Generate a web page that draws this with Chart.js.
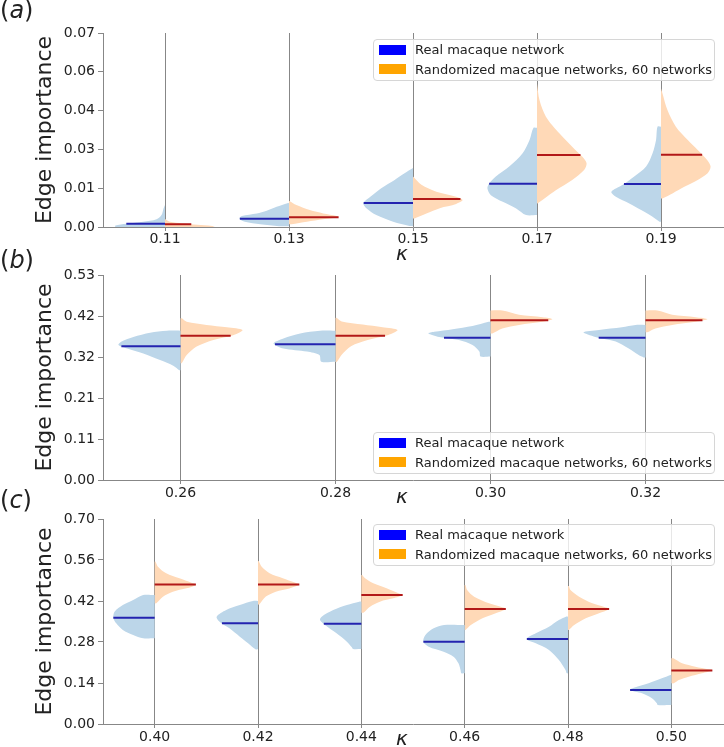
<!DOCTYPE html>
<html>
<head>
<meta charset="utf-8">
<title>Edge importance</title>
<script src="https://cdn.jsdelivr.net/npm/chart.js@4.4.1/dist/chart.umd.min.js"></script>
<style>
  body { margin: 0; background: #fff; }
  #fig { position: relative; width: 724px; height: 747px; overflow: hidden; font-family: 'DejaVu Sans', sans-serif; color: #222; }
  #fig canvas { position: absolute; left: 0; }
  .tag { position: absolute; left: 0; font-size: 24px; line-height: 24px; }
  .kappa { position: absolute; left: 396px; font-size: 20px; line-height: 20px; font-style: italic; }
  .legend { position: absolute; left: 373px; width: 340px; height: 40px; background: rgba(255,255,255,0.8); border: 1px solid #d6d6d6; border-radius: 4px; font-size: 13px; }
  .legend div { height: 19.5px; display: flex; align-items: center; white-space: nowrap; }
  .legend .sw { display: inline-block; width: 27px; height: 10px; margin: 0 9px 0 5px; }
</style>
</head>
<body>
<div id="fig">
  <canvas id="panelA" width="724" height="250" style="top:0px"></canvas>
  <canvas id="panelB" width="724" height="260" style="top:250px"></canvas>
  <canvas id="panelC" width="724" height="247" style="top:500px"></canvas>

  <div class="tag" style="top:-2px">(<i>a</i>)</div>
  <div class="tag" style="top:248px">(<i>b</i>)</div>
  <div class="tag" style="top:488px">(<i>c</i>)</div>

  <div class="kappa" style="top:243px">κ</div>
  <div class="kappa" style="top:486px">κ</div>
  <div class="kappa" style="top:728px">κ</div>

  <div class="legend" style="top:39px">
    <div><span class="sw" style="background:blue"></span>Real macaque network</div>
    <div><span class="sw" style="background:orange"></span>Randomized macaque networks, 60 networks</div>
  </div>
  <div class="legend" style="top:432px">
    <div><span class="sw" style="background:blue"></span>Real macaque network</div>
    <div><span class="sw" style="background:orange"></span>Randomized macaque networks, 60 networks</div>
  </div>
  <div class="legend" style="top:524px">
    <div><span class="sw" style="background:blue"></span>Real macaque network</div>
    <div><span class="sw" style="background:orange"></span>Randomized macaque networks, 60 networks</div>
  </div>
</div>

<script>
// panel (a)
const kappaA = ['0.11', '0.13', '0.15', '0.17', '0.19'];
const yMaxA = 0.07;
const yTicksA = [0, 0.014, 0.028, 0.042, 0.056, 0.07];
const yLabelsA = ['0.00', '0.01', '0.03', '0.04', '0.06', '0.07'];
const realMedianA = [0.0012, 0.0030, 0.0087, 0.0156, 0.0155];
const randMedianA = [0.0010, 0.0035, 0.0101, 0.0260, 0.0261];
// violin outlines: [edge importance, relative density], top to bottom
const realShapesA = [
    [[0.0079, 0], [0.0067, 0.03], [0.0043, 0.07], [0.0028, 0.17], [0.0019, 0.44], [0.0012, 0.78], [0.0005, 1.0], [0, 1.0]],
    [[0.0086, 0.03], [0.0073, 0.25], [0.0059, 0.45], [0.0049, 0.65], [0.0040, 0.95], [0.0031, 1.0], [0.0019, 0.89], [0.0010, 0.58], [0.0003, 0.2]],
    [[0.0213, 0], [0.0194, 0.17], [0.0170, 0.37], [0.0140, 0.64], [0.0109, 0.86], [0.0086, 1.0], [0.0068, 0.94], [0.0043, 0.74], [0.0019, 0.4], [0.0004, 0.07]],
    [[0.0358, 0.07], [0.0314, 0.15], [0.0266, 0.29], [0.0218, 0.56], [0.0182, 0.83], [0.0158, 0.96], [0.0140, 1.0], [0.0115, 0.93], [0.0091, 0.69], [0.0067, 0.42], [0.0043, 0.22]],
    [[0.0362, 0.07], [0.0314, 0.1], [0.0266, 0.17], [0.0218, 0.3], [0.0182, 0.54], [0.0152, 0.77], [0.0127, 1.0], [0.0109, 0.91], [0.0085, 0.64], [0.0061, 0.4], [0.0037, 0.17], [0.0019, 0.03]]
];
const randShapesA = [
    [[0.0029, 0], [0.0019, 0.1], [0.0013, 0.35], [0.0008, 0.65], [0.0004, 0.95], [0, 1.0]],
    [[0.0095, 0], [0.0079, 0.15], [0.0061, 0.42], [0.0049, 0.69], [0.0040, 0.96], [0.0035, 1.0], [0.0028, 0.69], [0.0019, 0.36], [0.0010, 0.05]],
    [[0.0182, 0], [0.0152, 0.17], [0.0127, 0.47], [0.0109, 0.87], [0.0097, 1.0], [0.0083, 0.87], [0.0068, 0.54], [0.0049, 0.27], [0.0031, 0.03]],
    [[0.0518, 0], [0.0458, 0.05], [0.0398, 0.18], [0.0338, 0.45], [0.0290, 0.71], [0.0254, 0.91], [0.0230, 1.0], [0.0206, 0.95], [0.0170, 0.71], [0.0133, 0.38], [0.0103, 0.15], [0.0085, 0.01]],
    [[0.0500, 0], [0.0482, 0.03], [0.0422, 0.13], [0.0362, 0.3], [0.0314, 0.54], [0.0278, 0.74], [0.0242, 0.93], [0.0218, 1.0], [0.0194, 0.94], [0.0170, 0.74], [0.0145, 0.47], [0.0122, 0.24], [0.0103, 0.03]]
];

// panel (b)
const kappaB = ['0.26', '0.28', '0.30', '0.32'];
const yMaxB = 0.53;
const yTicksB = [0, 0.106, 0.212, 0.318, 0.424, 0.53];
const yLabelsB = ['0.00', '0.11', '0.21', '0.32', '0.42', '0.53'];
const realMedianB = [0.346, 0.351, 0.368, 0.368];
const randMedianB = [0.373, 0.373, 0.413, 0.413];
const realShapesB = [
    [[0.386, 0.22], [0.381, 0.49], [0.370, 0.76], [0.358, 0.95], [0.349, 1.0], [0.340, 0.86], [0.327, 0.6], [0.310, 0.33], [0.295, 0.11], [0.284, 0.02]],
    [[0.386, 0.25], [0.379, 0.57], [0.366, 0.84], [0.353, 1.0], [0.340, 0.84], [0.332, 0.46], [0.323, 0.26], [0.306, 0.23]],
    [[0.409, 0.03], [0.398, 0.29], [0.390, 0.61], [0.383, 0.91], [0.379, 1.0], [0.370, 0.83], [0.362, 0.51], [0.349, 0.29], [0.332, 0.18], [0.319, 0.16]],
    [[0.401, 0.16], [0.395, 0.38], [0.388, 0.75], [0.382, 1.0], [0.370, 0.81], [0.358, 0.48], [0.340, 0.27], [0.323, 0.11], [0.317, 0.03]]
];
const randShapesB = [
    [[0.418, 0.02], [0.409, 0.1], [0.401, 0.42], [0.395, 0.75], [0.388, 1.0], [0.375, 0.86], [0.362, 0.53], [0.345, 0.26], [0.323, 0.1], [0.302, 0.02]],
    [[0.419, 0.02], [0.410, 0.1], [0.402, 0.44], [0.395, 0.76], [0.388, 1.0], [0.375, 0.85], [0.362, 0.52], [0.346, 0.25], [0.324, 0.1], [0.305, 0.02]],
    [[0.438, 0.19], [0.427, 0.46], [0.421, 0.84], [0.416, 1.0], [0.409, 0.84], [0.401, 0.46], [0.392, 0.19], [0.379, 0.03]],
    [[0.438, 0.19], [0.427, 0.43], [0.421, 0.81], [0.416, 1.0], [0.409, 0.81], [0.401, 0.43], [0.392, 0.16], [0.382, 0.03]]
];

// panel (c)
const kappaC = ['0.40', '0.42', '0.44', '0.46', '0.48', '0.50'];
const yMaxC = 0.70;
const yTicksC = [0, 0.14, 0.28, 0.42, 0.56, 0.70];
const yLabelsC = ['0.00', '0.14', '0.28', '0.42', '0.56', '0.70'];
const realMedianC = [0.363, 0.344, 0.342, 0.281, 0.290, 0.116];
const randMedianC = [0.476, 0.476, 0.4405, 0.393, 0.393, 0.183];
const realShapesC = [
    [[0.4405, 0.28], [0.4235, 0.52], [0.4064, 0.77], [0.3836, 0.97], [0.3631, 1.0], [0.3438, 0.93], [0.3210, 0.77], [0.3039, 0.52], [0.2926, 0.28]],
    [[0.4200, 0.12], [0.4064, 0.44], [0.3893, 0.77], [0.3666, 1.0], [0.3495, 0.93], [0.3267, 0.69], [0.2982, 0.44], [0.2755, 0.24], [0.2550, 0.06]],
    [[0.4178, 0.05], [0.4064, 0.35], [0.3893, 0.68], [0.3666, 0.96], [0.3552, 1.0], [0.3381, 0.88], [0.3096, 0.6], [0.2812, 0.35], [0.2618, 0.23], [0.2561, 0.2]],
    [[0.3381, 0.5], [0.3267, 0.75], [0.3039, 0.95], [0.2812, 1.0], [0.2641, 0.87], [0.2470, 0.51], [0.2300, 0.27], [0.2072, 0.15], [0.1844, 0.1], [0.1730, 0.08]],
    [[0.3665, 0.05], [0.3552, 0.22], [0.3324, 0.46], [0.3096, 0.78], [0.2903, 1.0], [0.2755, 0.78], [0.2527, 0.46], [0.2186, 0.22], [0.1844, 0.06], [0.1730, 0.03]],
    [[0.1673, 0.02], [0.1559, 0.23], [0.1389, 0.55], [0.1252, 0.87], [0.1161, 1.0], [0.1047, 0.71], [0.0876, 0.47], [0.0706, 0.35], [0.0649, 0.33]]
];
const randShapesC = [
    [[0.5544, 0.02], [0.5373, 0.08], [0.5145, 0.28], [0.4974, 0.6], [0.4827, 0.89], [0.4758, 1.0], [0.4633, 0.77], [0.4519, 0.44], [0.4348, 0.2], [0.4121, 0.04]],
    [[0.5560, 0.02], [0.5390, 0.08], [0.5150, 0.28], [0.4980, 0.6], [0.4830, 0.89], [0.4760, 1.0], [0.4630, 0.76], [0.4520, 0.43], [0.4350, 0.19], [0.4080, 0.03]],
    [[0.5088, 0.02], [0.4974, 0.09], [0.4804, 0.29], [0.4633, 0.61], [0.4462, 0.9], [0.4405, 1.0], [0.4291, 0.77], [0.4178, 0.45], [0.4007, 0.21], [0.3802, 0.05]],
    [[0.4747, 0.02], [0.4576, 0.06], [0.4348, 0.23], [0.4121, 0.59], [0.3985, 0.91], [0.3927, 1.0], [0.3780, 0.75], [0.3609, 0.43], [0.3381, 0.15], [0.3210, 0.02]],
    [[0.4713, 0.02], [0.4576, 0.06], [0.4348, 0.27], [0.4121, 0.59], [0.3985, 0.9], [0.3927, 1.0], [0.3780, 0.75], [0.3609, 0.43], [0.3381, 0.15], [0.3210, 0.02]],
    [[0.2243, 0.05], [0.2072, 0.26], [0.1958, 0.58], [0.1867, 0.9], [0.1833, 1.0], [0.1730, 0.74], [0.1616, 0.42], [0.1503, 0.18], [0.1389, 0.06]]
];

const HALF = 0.4;   // max half width of a violin, in category units
const GRAY = 'rgb(135,135,135)';
const REAL_FILL = 'rgb(188,214,233)';
const RAND_FILL = 'rgb(255,217,183)';
const REAL_LINE = 'rgb(35,35,175)';
const RAND_LINE = 'rgb(178,24,24)';

Chart.defaults.font.family = "'DejaVu Sans', sans-serif";
Chart.defaults.color = '#222';

// width of the outline at a given value (outline is listed top to bottom)
function widthAt(shape, v) {
    for (let k = 0; k < shape.length - 1; k++) {
        const a = shape[k], b = shape[k + 1];
        if (v <= a[0] && v >= b[0]) {
            const t = a[0] === b[0] ? 0 : (v - a[0]) / (b[0] - a[0]);
            return a[1] + t * (b[1] - a[1]);
        }
    }
    return v > shape[0][0] ? shape[0][1] : shape[shape.length - 1][1];
}

function halfViolin(i, shape, side, color) {
    const top = {x: i, y: shape[0][0]};
    const bottom = {x: i, y: shape[shape.length - 1][0]};
    const edge = shape.map(function (p) {
        return {x: i + side * p[1] * HALF, y: p[0]};
    });
    // doubled end points keep the spline straight along the centre line
    return {
        data: [top, {x: top.x, y: top.y}].concat(edge, [bottom, {x: bottom.x, y: bottom.y}]),
        showLine: true,
        fill: 'shape',
        backgroundColor: color,
        borderColor: color,
        borderWidth: 0,
        pointRadius: 0,
        tension: 0.3,
        order: 2
    };
}

function medianLine(i, m, shape, side, color) {
    const w = widthAt(shape, m);
    return {
        data: [{x: i + side * w * HALF, y: m}, {x: i, y: m}],
        showLine: true,
        fill: false,
        borderColor: color,
        borderWidth: 2,
        pointRadius: 0,
        order: 1
    };
}

function makePanel(id, kappa, yMax, yTicks, yLabels, realShapes, randShapes, realMedian, randMedian, padTop, xHeight, labelPad) {
    const datasets = [];
    kappa.forEach(function (k, i) {
        datasets.push(medianLine(i, realMedian[i], realShapes[i], -1, REAL_LINE));
        datasets.push(medianLine(i, randMedian[i], randShapes[i], 1, RAND_LINE));
        datasets.push(halfViolin(i, realShapes[i], -1, REAL_FILL));
        datasets.push(halfViolin(i, randShapes[i], 1, RAND_FILL));
    });
    return new Chart(document.getElementById(id), {
        type: 'scatter',
        data: {datasets: datasets},
        options: {
            responsive: false,
            animation: false,
            events: [],
            indexAxis: 'y',
            layout: {padding: {top: padTop, right: 1, bottom: 0, left: 0}},
            plugins: {
                legend: {display: false},
                tooltip: {enabled: false}
            },
            scales: {
                x: {
                    type: 'linear',
                    position: 'bottom',
                    min: -0.5,
                    max: kappa.length - 0.5,
                    z: 1,
                    afterBuildTicks: function (scale) {
                        scale.ticks = kappa.map(function (k, i) { return {value: i}; });
                    },
                    afterFit: function (scale) { scale.height = xHeight; },
                    ticks: {
                        callback: function (v, i) { return kappa[i]; },
                        font: {size: 14},
                        padding: labelPad,
                        maxRotation: 0,
                        autoSkip: false
                    },
                    grid: {color: GRAY, lineWidth: 1, tickLength: 4},
                    border: {color: GRAY, width: 1}
                },
                y: {
                    type: 'linear',
                    position: 'left',
                    min: 0,
                    max: yMax,
                    afterBuildTicks: function (scale) {
                        scale.ticks = yTicks.map(function (v) { return {value: v}; });
                    },
                    afterFit: function (scale) { scale.width = 103; },
                    ticks: {
                        callback: function (v, i) { return yLabels[i]; },
                        font: {size: 14},
                        padding: 3
                    },
                    grid: {drawOnChartArea: false, color: GRAY, tickLength: 5},
                    border: {color: GRAY, width: 1},
                    title: {
                        display: true,
                        text: 'Edge importance',
                        font: {size: 22},
                        padding: {top: 32, bottom: 0}
                    }
                }
            }
        }
    });
}

const chartA = makePanel('panelA', kappaA, yMaxA, yTicksA, yLabelsA, realShapesA, randShapesA, realMedianA, randMedianA, 33, 23, 0);
const chartB = makePanel('panelB', kappaB, yMaxB, yTicksB, yLabelsB, realShapesB, randShapesB, realMedianB, randMedianB, 25, 30, 1);
const chartC = makePanel('panelC', kappaC, yMaxC, yTicksC, yLabelsC, realShapesC, randShapesC, realMedianC, randMedianC, 19, 23, 1);
</script>
</body>
</html>
